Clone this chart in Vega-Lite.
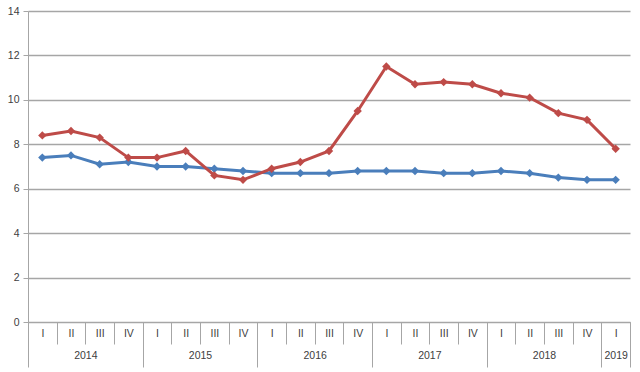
{
  "$schema": "https://vega.github.io/schema/vega-lite/v6.json",
  "width": 602,
  "height": 311,
  "autosize": {"type": "none"},
  "padding": {"left": 28, "top": 11, "right": 10, "bottom": 50},
  "background": "white",
  "config": {
    "view": {"stroke": null},
    "axis": {"labelFont": "Liberation Sans", "labelFontSize": 10.5, "labelColor": "#404040"}
  },
  "data": {
    "values": [
      {"idx": 0, "year": 2014, "q": "I", "series": "Series 1", "value": 7.4},
      {"idx": 1, "year": 2014, "q": "II", "series": "Series 1", "value": 7.5},
      {"idx": 2, "year": 2014, "q": "III", "series": "Series 1", "value": 7.1},
      {"idx": 3, "year": 2014, "q": "IV", "series": "Series 1", "value": 7.2},
      {"idx": 4, "year": 2015, "q": "I", "series": "Series 1", "value": 7.0},
      {"idx": 5, "year": 2015, "q": "II", "series": "Series 1", "value": 7.0},
      {"idx": 6, "year": 2015, "q": "III", "series": "Series 1", "value": 6.9},
      {"idx": 7, "year": 2015, "q": "IV", "series": "Series 1", "value": 6.8},
      {"idx": 8, "year": 2016, "q": "I", "series": "Series 1", "value": 6.7},
      {"idx": 9, "year": 2016, "q": "II", "series": "Series 1", "value": 6.7},
      {"idx": 10, "year": 2016, "q": "III", "series": "Series 1", "value": 6.7},
      {"idx": 11, "year": 2016, "q": "IV", "series": "Series 1", "value": 6.8},
      {"idx": 12, "year": 2017, "q": "I", "series": "Series 1", "value": 6.8},
      {"idx": 13, "year": 2017, "q": "II", "series": "Series 1", "value": 6.8},
      {"idx": 14, "year": 2017, "q": "III", "series": "Series 1", "value": 6.7},
      {"idx": 15, "year": 2017, "q": "IV", "series": "Series 1", "value": 6.7},
      {"idx": 16, "year": 2018, "q": "I", "series": "Series 1", "value": 6.8},
      {"idx": 17, "year": 2018, "q": "II", "series": "Series 1", "value": 6.7},
      {"idx": 18, "year": 2018, "q": "III", "series": "Series 1", "value": 6.5},
      {"idx": 19, "year": 2018, "q": "IV", "series": "Series 1", "value": 6.4},
      {"idx": 20, "year": 2019, "q": "I", "series": "Series 1", "value": 6.4},
      {"idx": 0, "year": 2014, "q": "I", "series": "Series 2", "value": 8.4},
      {"idx": 1, "year": 2014, "q": "II", "series": "Series 2", "value": 8.6},
      {"idx": 2, "year": 2014, "q": "III", "series": "Series 2", "value": 8.3},
      {"idx": 3, "year": 2014, "q": "IV", "series": "Series 2", "value": 7.4},
      {"idx": 4, "year": 2015, "q": "I", "series": "Series 2", "value": 7.4},
      {"idx": 5, "year": 2015, "q": "II", "series": "Series 2", "value": 7.7},
      {"idx": 6, "year": 2015, "q": "III", "series": "Series 2", "value": 6.6},
      {"idx": 7, "year": 2015, "q": "IV", "series": "Series 2", "value": 6.4},
      {"idx": 8, "year": 2016, "q": "I", "series": "Series 2", "value": 6.9},
      {"idx": 9, "year": 2016, "q": "II", "series": "Series 2", "value": 7.2},
      {"idx": 10, "year": 2016, "q": "III", "series": "Series 2", "value": 7.7},
      {"idx": 11, "year": 2016, "q": "IV", "series": "Series 2", "value": 9.5},
      {"idx": 12, "year": 2017, "q": "I", "series": "Series 2", "value": 11.5},
      {"idx": 13, "year": 2017, "q": "II", "series": "Series 2", "value": 10.7},
      {"idx": 14, "year": 2017, "q": "III", "series": "Series 2", "value": 10.8},
      {"idx": 15, "year": 2017, "q": "IV", "series": "Series 2", "value": 10.7},
      {"idx": 16, "year": 2018, "q": "I", "series": "Series 2", "value": 10.3},
      {"idx": 17, "year": 2018, "q": "II", "series": "Series 2", "value": 10.1},
      {"idx": 18, "year": 2018, "q": "III", "series": "Series 2", "value": 9.4},
      {"idx": 19, "year": 2018, "q": "IV", "series": "Series 2", "value": 9.1},
      {"idx": 20, "year": 2019, "q": "I", "series": "Series 2", "value": 7.8}
    ]
  },
  "resolve": {"axis": {"x": "independent"}},
  "layer": [
    {
      "mark": {"type": "rule", "opacity": 0},
      "encoding": {
        "x": {
          "field": "idx", "type": "quantitative",
          "scale": {"domain": [-0.5, 20.5], "nice": false, "zero": false},
          "axis": {
            "title": null, "orient": "bottom", "values": [-0.5, 0.5, 1.5, 2.5, 3.5, 4.5, 5.5, 6.5, 7.5, 8.5, 9.5, 10.5, 11.5, 12.5, 13.5, 14.5, 15.5, 16.5, 17.5, 18.5, 19.5, 20.5],
            "labels": false, "domain": false, "grid": false, "ticks": true,
            "tickSize": 22, "tickColor": "#a6a6a6", "tickWidth": 1
          }
        }
      }
    },
    {
      "mark": {"type": "rule", "opacity": 0},
      "encoding": {
        "x": {
          "field": "idx", "type": "quantitative",
          "axis": {
            "title": null, "orient": "bottom", "values": [-0.5, 3.5, 7.5, 11.5, 15.5, 19.5, 20.5],
            "labels": false, "domain": false, "grid": false, "ticks": true,
            "tickSize": 45, "tickColor": "#a6a6a6", "tickWidth": 1
          }
        }
      }
    },
    {
      "mark": {"type": "rule", "opacity": 0},
      "encoding": {
        "x": {
          "field": "idx", "type": "quantitative",
          "axis": {
            "title": null, "orient": "bottom", "values": [1.5, 5.5, 9.5, 13.5, 17.5, 20],
            "labelExpr": "datum.value == 20 ? '2019' : toString(2014 + floor(datum.value / 4))",
            "domain": false, "grid": false, "ticks": false, "labelPadding": 28,
            "labelFlush": false, "labelOverlap": false
          }
        }
      }
    },
    {
      "mark": {"type": "line", "strokeWidth": 3},
      "encoding": {
        "x": {
          "field": "idx", "type": "quantitative",
          "axis": {
            "title": null, "orient": "bottom", "values": [0, 1, 2, 3, 4, 5, 6, 7, 8, 9, 10, 11, 12, 13, 14, 15, 16, 17, 18, 19, 20],
            "labelExpr": "['I','II','III','IV'][datum.value % 4]",
            "domain": true, "domainColor": "#a6a6a6", "grid": false, "ticks": false,
            "labelPadding": 6, "labelFlush": false, "labelOverlap": false
          }
        },
        "y": {
          "field": "value", "type": "quantitative",
          "scale": {"domain": [0, 14], "nice": false},
          "axis": {
            "title": null, "values": [0, 2, 4, 6, 8, 10, 12, 14],
            "grid": true, "gridColor": "#a6a6a6", "gridWidth": 1.3,
            "domain": true, "domainColor": "#a6a6a6", "ticks": true, "tickSize": 5, "tickColor": "#a6a6a6",
            "labelPadding": 4
          }
        },
        "color": {
          "field": "series", "type": "nominal",
          "scale": {"domain": ["Series 1", "Series 2"], "range": ["#4a7ebb", "#be4b48"]},
          "legend": null
        }
      }
    },
    {
      "mark": {"type": "point", "shape": "diamond", "filled": true, "size": 70, "opacity": 1},
      "encoding": {
        "x": {"field": "idx", "type": "quantitative", "axis": null},
        "y": {"field": "value", "type": "quantitative", "axis": {"title": null}},
        "color": {"field": "series", "type": "nominal", "legend": null}
      }
    }
  ]
}
